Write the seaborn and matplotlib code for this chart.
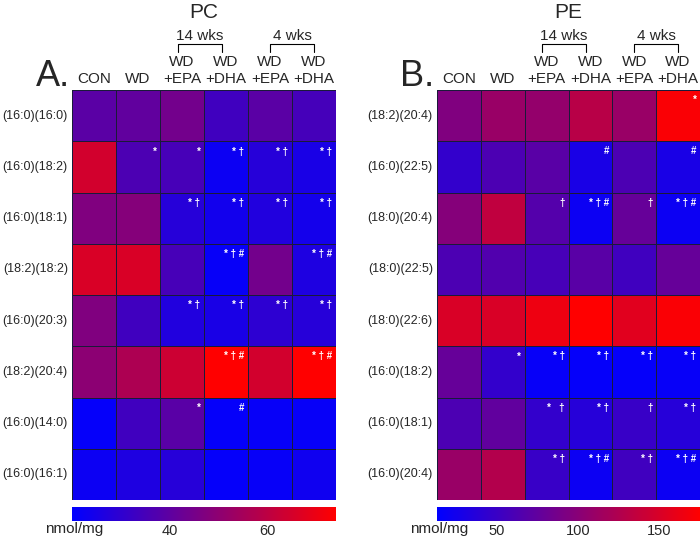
import numpy as np
import pandas as pd
import matplotlib
matplotlib.use("Agg")
import matplotlib.pyplot as plt
from matplotlib.colors import LinearSegmentedColormap
import seaborn as sns

sns.set_style("white")
plt.rcParams['font.family'] = ['Liberation Sans', 'DejaVu Sans']

groups = ["CON", "WD", "WD\n+EPA", "WD\n+DHA", "WD\n+EPA", "WD\n+DHA"]

pc_species = ["(16:0)(16:0)", "(16:0)(18:2)", "(16:0)(18:1)", "(18:2)(18:2)",
              "(16:0)(20:3)", "(18:2)(20:4)", "(16:0)(14:0)", "(16:0)(16:1)"]
pc_values = [
    [39.0, 40.5, 44.3, 33.5, 39.0, 34.6],
    [64.3, 36.2, 35.1, 22.7, 28.1, 25.4],
    [47.0, 48.1, 28.1, 23.8, 27.0, 24.3],
    [65.9, 65.9, 35.1, 21.6, 44.3, 26.5],
    [47.0, 33.5, 27.0, 25.4, 29.7, 28.1],
    [49.7, 56.7, 63.2, 74.0, 64.3, 74.0],
    [21.1, 33.5, 38.9, 21.1, 21.6, 21.6],
    [22.7, 26.5, 28.1, 21.1, 21.6, 23.2],
]
pc_marks = [
    ["", "", "", "", "", ""],
    ["", "*", "*", "* †", "* †", "* †"],
    ["", "", "* †", "* †", "* †", "* †"],
    ["", "", "", "* † #", "", "* † #"],
    ["", "", "* †", "* †", "* †", "* †"],
    ["", "", "", "* † #", "", "* † #"],
    ["", "", "*", "#", "", ""],
    ["", "", "", "", "", ""],
]

pe_species = ["(18:2)(20:4)", "(16:0)(22:5)", "(18:0)(20:4)", "(18:0)(22:5)",
              "(18:0)(22:6)", "(16:0)(18:2)", "(16:0)(18:1)", "(16:0)(20:4)"]
pe_values = [
    [94.0, 110.2, 107.0, 129.6, 110.2, 171.8],
    [45.4, 61.6, 69.7, 29.2, 61.6, 29.2],
    [97.2, 134.5, 66.5, 21.1, 77.8, 21.1],
    [61.6, 64.8, 58.4, 69.7, 53.5, 77.8],
    [150.7, 150.7, 163.7, 175.0, 155.6, 171.8],
    [77.8, 45.4, 17.9, 16.2, 16.2, 17.9],
    [61.6, 74.6, 45.4, 37.3, 48.6, 37.3],
    [110.2, 126.4, 48.6, 21.1, 53.5, 21.1],
]
pe_marks = [
    ["", "", "", "", "", "*"],
    ["", "", "", "#", "", "#"],
    ["", "", "†", "* † #", "†", "* † #"],
    ["", "", "", "", "", ""],
    ["", "", "", "", "", ""],
    ["", "*", "* †", "* †", "* †", "* †"],
    ["", "", "*   †", "* †", "†", "* †"],
    ["", "", "* †", "* † #", "* †", "* † #"],
]

pc_range = (20, 74)
pe_range = (13, 175)
pc_ticks = [40, 60]
pe_ticks = [50, 100, 150]

cmap = LinearSegmentedColormap.from_list("br", ["#0000ff", "#ff0000"])

W, H = 700, 540
fig = plt.figure(figsize=(7, 5.4), dpi=100)

def px(x0, y0, x1, y1):
    return [x0 / W, 1 - y1 / H, (x1 - x0) / W, (y1 - y0) / H]

def panel(hx0, hx1, values, species, marks, rng, ticks, title, letter, lx):
    ax = fig.add_axes(px(hx0, 90, hx1, 500))
    cax = fig.add_axes(px(hx0, 507, hx1, 521))
    df = pd.DataFrame(values, index=species, columns=range(6))
    sns.heatmap(df, ax=ax, cmap=cmap, vmin=rng[0], vmax=rng[1],
                linewidths=0.6, linecolor="#1a1a3a", cbar_ax=cax,
                cbar_kws={"orientation": "horizontal", "ticks": ticks})
    ax.set_xticks([])
    ax.set_yticks(np.arange(len(species)) + 0.5)
    ax.set_yticklabels(species, rotation=0, fontsize=9)
    ax.tick_params(axis="y", length=0, pad=3)
    ax.set_xlabel("")
    ax.set_ylabel("")
    for i, row in enumerate(marks):
        for j, m in enumerate(row):
            if m:
                ax.text(j + 0.92, i + 0.2, m, ha="right", va="center",
                        color="white", fontsize=7, fontweight="bold")
    # column headers
    for j, g in enumerate(groups):
        ax.text(j + 0.5, -0.07, g, ha="center", va="bottom", fontsize=11,
                linespacing=1.3, clip_on=False)
    # brackets
    for (a, b, lab) in [(2.4, 3.4, "14 wks"), (4.5, 5.5, "4 wks")]:
        yb = -0.9
        ax.plot([a, a, b, b], [yb + 0.16, yb, yb, yb + 0.16], color="black",
                lw=0.8, clip_on=False)
        ax.text((a + b) / 2, yb - 0.02, lab, ha="center", va="bottom",
                fontsize=11, clip_on=False)
    ax.text(3.0, -1.32, title, ha="center", va="bottom", fontsize=15,
            clip_on=False)
    fig.text(lx / W, 1 - 76 / H, letter, fontsize=26, ha="left", va="center")
    cax.tick_params(length=0, labelsize=10.5, pad=2)
    for s in cax.spines.values():
        s.set_visible(False)
    return ax, cax

panel(72, 336, pc_values, pc_species, pc_marks, pc_range, pc_ticks, "PC", "A.", 36)
panel(437, 700, pe_values, pe_species, pe_marks, pe_range, pe_ticks, "PE", "B.", 400)

fig.text(45 / W, 1 - 529 / H, "nmol/mg", fontsize=11, ha="left", va="center")
fig.text(410 / W, 1 - 529 / H, "nmol/mg", fontsize=11, ha="left", va="center")

fig.savefig("out.png", dpi=100)
